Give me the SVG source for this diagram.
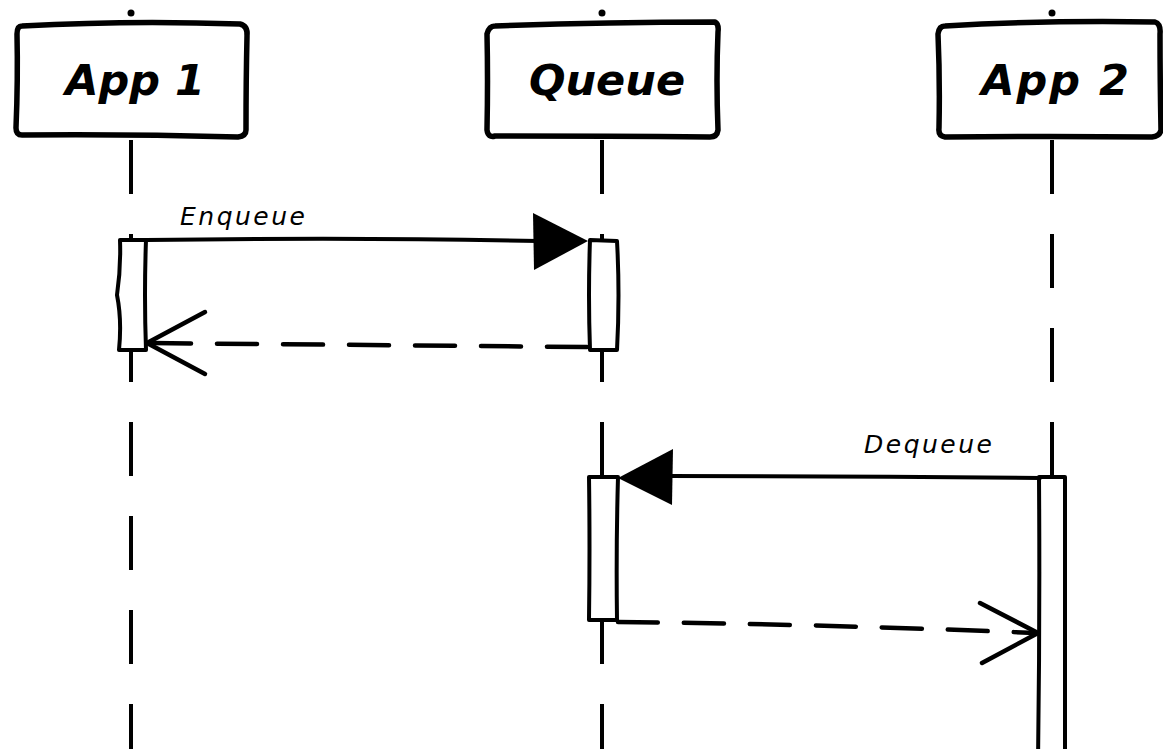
<svg xmlns="http://www.w3.org/2000/svg" width="1163" height="749" viewBox="0 0 1163 749">
  <style>
    .box { fill: #fff; stroke: #000; stroke-width: 5.5; stroke-linejoin: round; stroke-linecap: round; }
    .act { fill: #fff; stroke: #000; stroke-width: 4; stroke-linejoin: round; }
    .life { fill: none; stroke: #000; stroke-width: 4; stroke-dasharray: 54 40; }
    .msg { fill: none; stroke: #000; stroke-width: 4; stroke-linecap: round; }
    .ret { fill: none; stroke: #000; stroke-width: 4.5; stroke-dasharray: 40 26; stroke-linecap: round; }
    .open { fill: none; stroke: #000; stroke-width: 4.5; stroke-linecap: round; stroke-linejoin: round; }
    .title { font-family: "Comic Sans MS", "DejaVu Sans", sans-serif; font-style: italic; font-weight: bold; font-size: 43px; fill: #000; text-anchor: middle; }
    .label { font-family: "Comic Sans MS", "DejaVu Sans", sans-serif; font-style: italic; font-size: 25px; letter-spacing: 2.5px; fill: #000; }
  </style>

  <!-- lifelines -->
  <g id="lifelines">
    <path class="life" d="M131 140 L131 749"/>
    <path class="life" d="M602 140 L602 749"/>
    <path class="life" d="M1052 140 L1052 749"/>
  </g>

  <g id="app1">
    <circle cx="131" cy="13" r="3.5" fill="#000"/>
    <path class="box" d="M22 26 Q130 20 240 24 Q248 26 247 36 Q246 80 246 130 Q246 136 238 137 Q130 134 22 135 Q16 135 16 128 Q18 80 17 34 Q17 26 22 26 Z"/>
    <text class="title" x="135" y="95">App 1</text>
  </g>

  <g id="queue">
    <circle cx="602" cy="13" r="3.5" fill="#000"/>
    <path class="box" d="M495 26 Q600 22 715 22 Q719 24 718 32 Q716 80 718 130 Q717 137 710 137 Q600 136 495 136 Q488 138 487 130 Q488 80 487 34 Q489 26 495 26 Z"/>
    <text class="title" x="607" y="95">Queue</text>
  </g>

  <g id="app2">
    <circle cx="1052" cy="13" r="3.5" fill="#000"/>
    <path class="box" d="M945 26 Q1050 20 1155 22 Q1161 24 1160 34 Q1160 80 1161 130 Q1160 136 1152 137 Q1050 136 945 137 Q938 136 939 128 Q940 80 938 34 Q939 26 945 26 Z"/>
    <text class="title" x="1056" y="95" letter-spacing="2">App 2</text>
  </g>

  <!-- activation bars -->
  <g id="act-app1">
    <path class="act" d="M120 240 L146 240 Q144 295 146 350 L119 350 Q122 320 117 295 Q121 268 120 240 Z"/>
  </g>
  <g id="act-queue-1">
    <path class="act" d="M590 240 L617 241 Q620 295 617 350 L590 350 Q588 295 590 240 Z"/>
  </g>
  <g id="act-queue-2">
    <path class="act" d="M589 477 L618 477 Q616 548 617 620 L589 620 Q590 548 589 477 Z"/>
  </g>
  <g id="act-app2">
    <path class="act" d="M1039 477 L1065 477 L1065 760 L1038 760 Q1040 620 1039 477 Z"/>
  </g>

  <!-- messages -->
  <g id="connectors">
    <path class="msg" d="M146 240 Q360 237 538 241"/>
    <polygon points="533,213 588,241 534,270" fill="#000"/>
    <text class="label" x="180" y="225">Enqueue</text>

    <path class="ret" d="M587 347 L146 343"/>
    <path class="open" d="M205 312 L147 343 L205 374"/>

    <path class="msg" d="M1040 478 Q850 476 668 476"/>
    <polygon points="673,449 618,478 672,505" fill="#000"/>
    <text class="label" x="864" y="453">Dequeue</text>

    <path class="ret" d="M618 622 Q820 624 1035 633"/>
    <path class="open" d="M980 603 L1038 633 L982 663"/>
  </g>
</svg>
